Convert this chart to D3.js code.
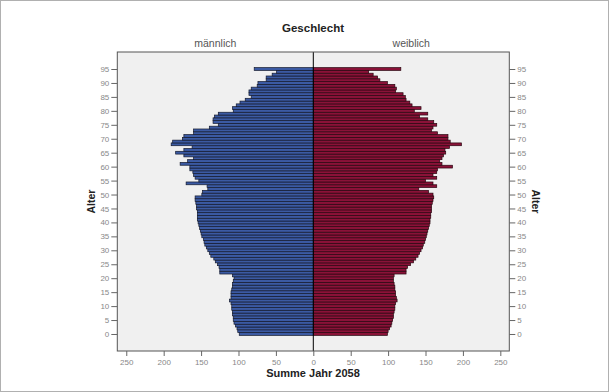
<!DOCTYPE html>
<html><head><meta charset="utf-8">
<script src="https://cdn.jsdelivr.net/npm/d3@7/dist/d3.min.js"></script>
<style>body{margin:0;background:#fff;}svg{display:block;font-family:"Liberation Sans",Arial,sans-serif;}</style>
</head><body>
<svg id="c" width="609" height="392"></svg>
<script>
const ages = d3.range(0, 96);
const male = [99,101,102,104,106,107,107,108,108,109,109,110,112,110,110,110,109,108,108,107,106,108,125,125,126,128,131,133,137,139,141,143,145,146,147,149,150,151,152,153,154,155,155,155,155,156,156,157,158,158,149,148,141,142,170,153,158,160,161,165,165,178,168,160,173,184,173,162,190,188,175,173,160,160,139,127,134,134,132,127,107,108,103,98,91,83,86,86,83,75,74,63,63,55,49,79];
const female = [99,100,102,104,105,106,107,107,108,109,109,110,112,111,110,110,109,109,108,107,107,108,124,124,126,130,134,137,140,142,144,146,147,149,150,151,152,153,154,155,156,156,157,157,158,158,158,159,160,161,160,154,141,165,160,150,165,160,165,166,186,172,169,172,174,177,176,182,198,183,180,180,166,158,160,165,161,153,142,153,135,144,132,129,124,123,120,110,111,109,99,89,86,80,74,117];
const xTicks = [-250,-200,-150,-100,-50,0,50,100,150,200,250];
const yTicks = d3.range(0, 96, 5);
const title = "Geschlecht", leftLabel = "männlich", rightLabel = "weiblich";
const xTitle = "Summe Jahr 2058", yTitle = "Alter";

const svg = d3.select("#c");
const L = 117.3, R = 509.3, T = 52, B = 351;
const x = d3.scaleLinear().domain([-262, 262]).range([L, R]);
const y = d3.scaleLinear().domain([-6.1, 101.1]).range([B, T]);

svg.append("rect").attr("x",0.5).attr("y",0.5).attr("width",608).attr("height",391).attr("fill","#fff").attr("stroke","#b0b0b0");
svg.append("rect").attr("x",L).attr("y",T).attr("width",R-L).attr("height",B-T).attr("fill","#f0f0f0");

const g = svg.append("g");
g.selectAll("rect.m").data(ages).enter().append("rect")
  .attr("x", d => x(-male[d])).attr("y", d => y(d+0.5))
  .attr("width", d => x(0)-x(-male[d])).attr("height", d => y(d-0.5)-y(d+0.5))
  .attr("fill","#3b5aa3").attr("stroke","#141a2e").attr("stroke-width",0.7);
g.selectAll("rect.f").data(ages).enter().append("rect")
  .attr("x", x(0)).attr("y", d => y(d+0.5))
  .attr("width", d => x(female[d])-x(0)).attr("height", d => y(d-0.5)-y(d+0.5))
  .attr("fill","#8a1238").attr("stroke","#2a0610").attr("stroke-width",0.7);

svg.append("line").attr("x1",x(0)).attr("x2",x(0)).attr("y1",T).attr("y2",B).attr("stroke","#000").attr("stroke-width",1);
svg.append("rect").attr("x",L).attr("y",T).attr("width",R-L).attr("height",B-T).attr("fill","none").attr("stroke","#555").attr("stroke-width",1);

function styleAxis(sel){
  sel.select(".domain").remove();
  sel.selectAll(".tick line").attr("stroke","#666");
  sel.selectAll(".tick text").attr("fill","#888").attr("font-size","8px").attr("font-family","Liberation Sans, Arial, sans-serif");
}
svg.append("g").attr("transform",`translate(0,${B})`)
  .call(d3.axisBottom(x).tickValues(xTicks).tickFormat(d => Math.abs(d)).tickSize(5).tickPadding(3))
  .call(styleAxis);
svg.append("g").attr("transform",`translate(${L},0)`)
  .call(d3.axisLeft(y).tickValues(yTicks).tickSize(6).tickPadding(2))
  .call(styleAxis);
svg.append("g").attr("transform",`translate(${R},0)`)
  .call(d3.axisRight(y).tickValues(yTicks).tickSize(6).tickPadding(2))
  .call(styleAxis);

svg.append("text").attr("x",313).attr("y",31.5).attr("text-anchor","middle").attr("font-weight","bold").attr("font-size","11.5px").attr("fill","#222").text(title);
svg.append("text").attr("x",(L+x(0))/2).attr("y",46.5).attr("text-anchor","middle").attr("font-size","10.5px").attr("fill","#555").text(leftLabel);
svg.append("text").attr("x",(R+x(0))/2).attr("y",46.5).attr("text-anchor","middle").attr("font-size","10.5px").attr("fill","#555").text(rightLabel);
svg.append("text").attr("x",313).attr("y",377).attr("text-anchor","middle").attr("font-weight","bold").attr("font-size","11px").attr("fill","#222").text(xTitle);
svg.append("text").attr("transform",`translate(95,${(T+B)/2}) rotate(-90)`).attr("text-anchor","middle").attr("font-weight","bold").attr("font-size","10.5px").attr("fill","#222").text(yTitle);
svg.append("text").attr("transform",`translate(532,${(T+B)/2}) rotate(90)`).attr("text-anchor","middle").attr("font-weight","bold").attr("font-size","10.5px").attr("fill","#222").text(yTitle);
</script>
</body></html>
